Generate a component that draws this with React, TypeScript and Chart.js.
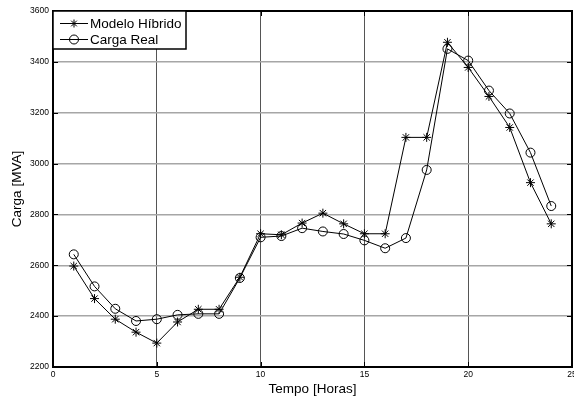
import React, { useEffect, useRef } from "react";
import { Chart, registerables } from "chart.js";

Chart.register(...registerables);

const hours = [1, 2, 3, 4, 5, 6, 7, 8, 9, 10, 11, 12, 13, 14, 15, 16, 17, 18, 19, 20, 21, 22, 23, 24];
const modeloHibrido = [2597, 2469, 2388, 2337, 2294, 2377, 2427, 2427, 2553, 2724, 2720, 2766, 2805, 2763, 2724, 2724, 3103, 3103, 3477, 3378, 3264, 3142, 2925, 2763];
const cargaReal = [2643, 2517, 2429, 2381, 2388, 2405, 2409, 2409, 2550, 2710, 2715, 2746, 2733, 2723, 2698, 2667, 2707, 2975, 3451, 3405, 3287, 3197, 3043, 2833];
const seriesLabels = ["Modelo Híbrido", "Carga Real"];
const xTitle = "Tempo [Horas]";
const yTitle = "Carga [MVA]";
const xRange = [0, 25];
const xStep = 5;
const yRange = [2200, 3600];
const yStep = 200;

const FONT = '"Liberation Sans", Arial, sans-serif';

function drawStar(ctx: CanvasRenderingContext2D, x: number, y: number, r: number) {
  ctx.beginPath();
  ctx.moveTo(x - r, y);
  ctx.lineTo(x + r, y);
  ctx.moveTo(x, y - r);
  ctx.lineTo(x, y + r);
  const d = r * 0.7071;
  ctx.moveTo(x - d, y - d);
  ctx.lineTo(x + d, y + d);
  ctx.moveTo(x - d, y + d);
  ctx.lineTo(x + d, y - d);
  ctx.stroke();
}

const matlabFrame = {
  id: "matlabFrame",
  afterDraw(chart: any) {
    const { ctx, chartArea } = chart;
    const { left, top, right, bottom } = chartArea;
    ctx.save();
    ctx.strokeStyle = "#000";
    ctx.lineWidth = 1;
    const xs = chart.scales.x;
    const ys = chart.scales.y;
    const tl = 5;
    ctx.beginPath();
    xs.ticks.forEach((t: any) => {
      const px = Math.round(xs.getPixelForValue(t.value)) + 0.5;
      ctx.moveTo(px, bottom);
      ctx.lineTo(px, bottom - tl);
      ctx.moveTo(px, top);
      ctx.lineTo(px, top + tl);
    });
    ys.ticks.forEach((t: any) => {
      const py = Math.round(ys.getPixelForValue(t.value)) + 0.5;
      ctx.moveTo(left, py);
      ctx.lineTo(left + tl, py);
      ctx.moveTo(right, py);
      ctx.lineTo(right - tl, py);
    });
    ctx.stroke();
    ctx.lineWidth = 2;
    ctx.strokeRect(left, top, right - left, bottom - top);

    const bx = left;
    const by = top;
    const bw = 133;
    const bh = 38;
    ctx.fillStyle = "#fff";
    ctx.fillRect(bx, by, bw, bh);
    ctx.lineWidth = 1.5;
    ctx.strokeStyle = "#000";
    ctx.strokeRect(bx, by, bw, bh);
    ctx.font = `13.5px ${FONT}`;
    ctx.fillStyle = "#000";
    ctx.textBaseline = "middle";
    ctx.textAlign = "left";
    const rows = [by + 12.5, by + 28.5];
    seriesLabels.forEach((label, i) => {
      const yy = rows[i];
      ctx.lineWidth = 1;
      ctx.beginPath();
      ctx.moveTo(bx + 7, yy);
      ctx.lineTo(bx + 35, yy);
      ctx.stroke();
      if (i === 0) {
        drawStar(ctx, bx + 21, yy, 4);
      } else {
        ctx.beginPath();
        ctx.arc(bx + 21, yy, 4.5, 0, Math.PI * 2);
        ctx.stroke();
      }
      ctx.fillText(label, bx + 37, yy + 0.5);
    });
    ctx.restore();
  },
};

export default function App() {
  const ref = useRef<HTMLCanvasElement>(null);
  useEffect(() => {
    document.body.style.margin = "0";
    const canvas = ref.current;
    if (!canvas) return;
    Chart.defaults.font.family = FONT;
    const chart = new Chart(canvas, {
      type: "line",
      data: {
        datasets: [
          {
            label: seriesLabels[0],
            data: hours.map((h, i) => ({ x: h, y: modeloHibrido[i] })),
            borderColor: "#000",
            borderWidth: 1,
            pointStyle: "star",
            pointRadius: 4.5,
            pointBorderColor: "#000",
            pointBorderWidth: 1,
            pointBackgroundColor: "rgba(0,0,0,0)",
            tension: 0,
            fill: false,
          },
          {
            label: seriesLabels[1],
            data: hours.map((h, i) => ({ x: h, y: cargaReal[i] })),
            borderColor: "#000",
            borderWidth: 1,
            pointStyle: "circle",
            pointRadius: 4.5,
            pointBorderColor: "#000",
            pointBorderWidth: 1,
            pointBackgroundColor: "rgba(0,0,0,0)",
            tension: 0,
            fill: false,
          },
        ],
      },
      options: {
        responsive: false,
        animation: false,
        devicePixelRatio: 1,
        layout: { autoPadding: false, padding: { left: 0, top: 11, right: 2, bottom: 0 } },
        plugins: {
          legend: { display: false },
          tooltip: { enabled: false },
        },
        scales: {
          x: {
            type: "linear",
            min: xRange[0],
            max: xRange[1],
            ticks: {
              stepSize: xStep,
              color: "#000",
              padding: 3,
              font: { size: 8.5 },
              maxRotation: 0,
              autoSkip: false,
              callback: (v: any) => String(v),
            },
            grid: { color: "#555", lineWidth: 1, drawTicks: false },
            border: { display: false },
            title: {
              display: true,
              text: xTitle,
              color: "#000",
              font: { size: 13.5 },
              padding: { top: 0, bottom: 4 },
            },
            afterFit: (axis: any) => {
              axis.height = 34;
              axis.paddingLeft = 0;
              axis.paddingRight = 0;
            },
          },
          y: {
            type: "linear",
            min: yRange[0],
            max: yRange[1],
            ticks: {
              stepSize: yStep,
              color: "#000",
              padding: 4,
              font: { size: 8.5 },
              callback: (v: any) => String(v),
            },
            grid: { color: "#a6a6a6", lineWidth: 1.5, drawTicks: false },
            border: { display: false },
            title: {
              display: true,
              text: yTitle,
              color: "#000",
              font: { size: 13.5 },
              padding: { top: 9, bottom: 0 },
            },
            afterFit: (axis: any) => {
              axis.width = 53;
              axis.paddingTop = 0;
              axis.paddingBottom = 0;
            },
          },
        },
      },
      plugins: [matlabFrame],
    } as any);
    return () => chart.destroy();
  }, []);
  return (
    <div style={{ position: "absolute", left: 0, top: 0, width: 574, height: 401, overflow: "hidden", background: "#fff" }}>
      <canvas ref={ref} width={574} height={401} style={{ display: "block" }} />
    </div>
  );
}
